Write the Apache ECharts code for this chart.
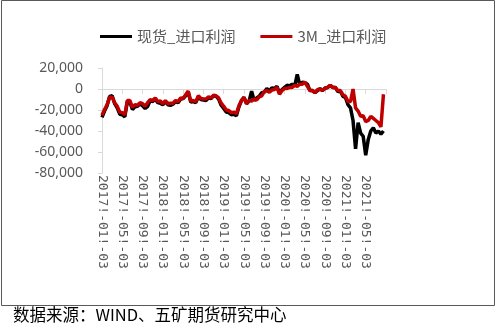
<!DOCTYPE html>
<html>
<head>
<meta charset="utf-8">
<script src="https://cdn.jsdelivr.net/npm/echarts@6/dist/echarts.min.js"></script>
<style>
html,body{margin:0;padding:0;background:#fff;}
#chart{width:500px;height:332px;}
</style>
</head>
<body>
<div id="chart"></div>
<script>
// Semi-monthly observation dates, 2017-01-03 .. 2021-09-03
var startYear = 2017, months = 56;
var categories = [];
for (var m = 0; m <= months; m++) {
  var y = startYear + Math.floor(m / 12), mo = (m % 12) + 1;
  var mm = (mo < 10 ? '0' : '') + mo;
  categories.push(y + '-' + mm + '-03');
  if (m < months) categories.push(y + '-' + mm + '-18');
}
var tickLabels = ['2017-01-03','2017-05-03','2017-09-03','2018-01-03','2018-05-03','2018-09-03',
  '2019-01-03','2019-05-03','2019-09-03','2020-01-03','2020-05-03','2020-09-03','2021-01-03','2021-05-03'];
var tickEnd = '2021-09-03';

var seriesNames = ['现货_进口利润', '3M_进口利润'];

// 现货_进口利润 (yuan/ton)
var spotProfit = [-27000,-21000,-16000,-7000,-6500,-14000,-18000,-24000,-24500,-26500,
  -12000,-12500,-19500,-17000,-16500,-14000,-16000,-18500,-16500,-11000,
  -12000,-9500,-13000,-13500,-15000,-12000,-15000,-15500,-14500,-12000,
  -13000,-9500,-9000,-6500,-3000,-12500,-12000,-13000,-7500,-10000,
  -10500,-11000,-8500,-9000,-6500,-7000,-9500,-15500,-18500,-22000,
  -22500,-24500,-24000,-25500,-17000,-11000,-8000,-14000,-11500,-2000,
  -11000,-8500,-7000,-3500,-3000,500,-2000,1000,500,2500,
  -4000,-500,1500,3500,3000,4500,3000,14000,4000,6500,
  6000,4500,-1500,-1500,-3500,-1500,500,-1500,1000,1500,
  3500,1500,1500,-2500,-2000,-7000,-8000,-15000,-18000,-30000,
  -57000,-32000,-42000,-45000,-63000,-48000,-40000,-37000,-42000,-40000,
  -43000,-40000];

// 3M_进口利润 (yuan/ton)
var threeMProfit = [-25000,-19500,-15000,-8000,-7500,-13000,-16500,-22000,-22500,-24500,
  -11000,-11000,-17500,-15000,-15500,-13000,-14000,-16500,-13000,-10000,
  -11000,-8500,-12000,-11500,-14000,-11000,-14000,-13500,-13500,-11000,
  -12000,-8500,-9000,-5500,-2000,-11500,-11000,-12000,-6500,-9000,
  -9500,-9500,-7500,-8500,-6000,-6500,-8500,-13500,-16500,-20000,
  -20500,-22500,-22000,-23500,-16000,-11000,-8000,-14000,-11000,-11500,
  -9500,-10500,-7500,-6500,-2500,-1500,-3000,-1000,-500,1500,
  -5000,-1500,500,500,1500,1500,3500,2500,4500,4500,
  6500,2500,-1500,-1500,-3500,-500,-500,-1000,500,1500,
  3500,1500,1500,-1500,-1500,-5500,-7000,-12000,-12000,0,
  -18000,-21000,-26000,-25500,-31000,-30000,-26000,-28000,-30000,-32000,
  -36000,-5000];

var yTicks = {min: -80000, max: 20000, interval: 20000};

var chart = echarts.init(document.getElementById('chart'));
var tickSet = {};
tickLabels.concat([tickEnd]).forEach(function (d) { tickSet[d] = true; });

function fmtNum(v) {
  var s = Math.abs(v).toString().replace(/\B(?=(\d{3})+(?!\d))/g, ',');
  return (v < 0 ? '-' : '') + s;
}

chart.setOption({
  backgroundColor: '#ffffff',
  animation: false,
  legend: {
    data: seriesNames,
    left: 95,
    top: 24,
    itemWidth: 32,
    itemHeight: 3,
    itemGap: 25,
    icon: 'rect',
    textStyle: {fontSize: 15, color: '#595959', fontFamily: 'Noto Sans CJK SC'}
  },
  grid: {left: 102, right: 114, top: 68, bottom: 159},
  xAxis: {
    type: 'category',
    data: categories,
    boundaryGap: false,
    offset: -10,
    axisLine: {lineStyle: {color: '#d9d9d9', width: 1}},
    axisTick: {
      length: 5,
      lineStyle: {color: '#d9d9d9'},
      interval: function (i, v) { return !!tickSet[v]; }
    },
    axisLabel: {
      interval: function (i, v) { return tickLabels.indexOf(v) >= 0; },
      rotate: -90,
      margin: 12,
      fontSize: 13,
      color: '#595959',
      fontFamily: 'DejaVu Sans Mono',
      formatter: function (v) { return v.replace(/-/g, '!-'); }
    },
    splitLine: {show: false}
  },
  yAxis: {
    type: 'value',
    min: yTicks.min,
    max: yTicks.max,
    interval: yTicks.interval,
    axisLine: {show: true, lineStyle: {color: '#d9d9d9'}},
    axisTick: {show: true, length: 4, lineStyle: {color: '#d9d9d9'}},
    axisLabel: {
      fontSize: 14,
      color: '#595959',
      margin: 19,
      fontFamily: 'Noto Sans',
      formatter: fmtNum
    },
    splitLine: {show: false}
  },
  series: [
    {
      name: seriesNames[0], type: 'line', data: spotProfit,
      showSymbol: false, symbol: 'none',
      lineStyle: {color: '#000000', width: 3.5},
      itemStyle: {color: '#000000'}
    },
    {
      name: seriesNames[1], type: 'line', data: threeMProfit,
      showSymbol: false, symbol: 'none',
      lineStyle: {color: '#c00000', width: 3.5},
      itemStyle: {color: '#c00000'}
    }
  ],
  graphic: [
    {type: 'rect', shape: {x: 1.5, y: 0.5, width: 493, height: 305},
      style: {fill: 'none', stroke: '#595959', lineWidth: 1}, silent: true},
    {type: 'text', left: 13, top: 306,
      style: {text: '数据来源：WIND、五矿期货研究中心', fontSize: 16.5, fill: '#000000',
        fontFamily: 'Noto Sans CJK SC'}}
  ]
});
</script>
</body>
</html>
